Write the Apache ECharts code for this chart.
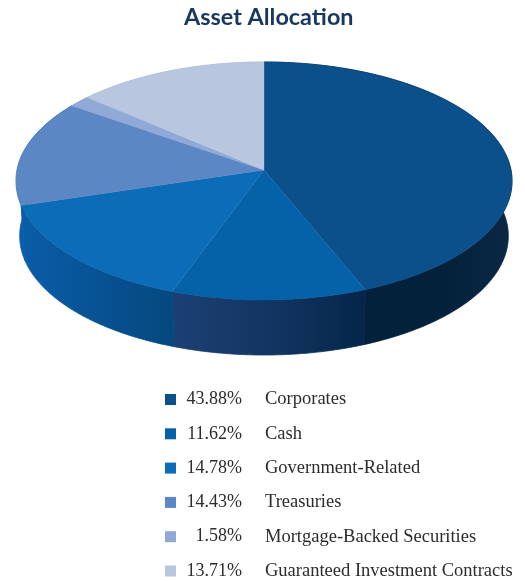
<!DOCTYPE html>
<html>
<head>
<meta charset="utf-8">
<style>html,body{margin:0;padding:0;background:#fff}#chart{width:525px;height:581px}</style>
<script src="https://cdn.jsdelivr.net/npm/echarts@6/dist/echarts.min.js"></script>
</head>
<body>
<div id="chart"></div>
<script>
// Portfolio weights by sector, in percent
const categories = ['Corporates', 'Cash', 'Government-Related', 'Treasuries', 'Mortgage-Backed Securities', 'Guaranteed Investment Contracts'];
const shares = [43.88, 11.62, 14.78, 14.43, 1.58, 13.71];

// Top face colours and the left-to-right shading of the rim
const faceColors = ['#0b4f8b', '#0561a8', '#0d6cb7', '#5c87c5', '#90a9d6', '#b8c6e0'];
const rimColors = [
  ['#04213b', '#04213b', '#0a2744'],
  ['#1b4074', '#133562', '#05264a'],
  ['#0a5da9', '#075293', '#06487f'],
  ['#6d93cc', '#0a5da9', '#0a5da9'],
  ['#7f97c4', '#7f97c4', '#7f97c4'],
  ['#a5b3cf', '#a5b3cf', '#a5b3cf']
];

// Disc projection: apex of the wedges, radii and perspective strength
const apexX = 264, apexY = 170, radiusX = 247, radiusY = 118, perspective = 0.0924;
const rimDepth = 55, rimScale = 0.985;

function project(turn) {
  const a = turn * 2 * Math.PI;
  const u = Math.sin(a), v = Math.cos(a);
  const w = 1 + perspective * v;
  return { x: apexX + radiusX * u / w, y: apexY - radiusY * v / w, v };
}

function arc(start, end) {
  const steps = Math.max(2, Math.ceil((end - start) * 720));
  const pts = [];
  for (let i = 0; i <= steps; i++) pts.push(project(start + (end - start) * i / steps));
  return pts;
}

function faceItem(params, api) {
  const pts = arc(api.value(0) / 100, api.value(1) / 100).map(p => [p.x, p.y]);
  pts.unshift([apexX, apexY]);
  const color = faceColors[params.seriesIndex];
  return { type: 'polygon', shape: { points: pts }, style: { fill: color, stroke: color, lineWidth: 0.4 } };
}

function rimItem(params, api) {
  const arcPts = arc(api.value(0) / 100, api.value(1) / 100);
  const lower = arcPts.map(p => [apexX + (p.x - apexX) * rimScale, p.y + rimDepth]).reverse();
  const near = arcPts.filter(p => p.v < 0.15);
  const xs = (near.length ? near : arcPts).map(p => p.x);
  const stops = rimColors[params.dataIndex];
  const shade = {
    type: 'linear', global: true,
    x: Math.min(...xs), y: 0, x2: Math.max(...xs), y2: 0,
    colorStops: [
      { offset: 0, color: stops[0] },
      { offset: 0.5, color: stops[1] },
      { offset: 1, color: stops[2] }
    ]
  };
  return {
    type: 'polygon',
    shape: { points: arcPts.map(p => [p.x, p.y]).concat(lower) },
    style: { fill: shade, stroke: shade, lineWidth: 0.8 }
  };
}

// Running [start, end] share of each sector around the disc
let running = 0;
const spans = shares.map(s => { const span = [running, running + s]; running += s; return span; });

const chart = echarts.init(document.getElementById('chart'), null, { renderer: 'canvas' });
chart.setOption({
  animation: false,
  title: {
    text: 'Asset Allocation',
    left: 179, top: 1,
    textStyle: { fontFamily: 'Lato', fontWeight: 'bold', fontSize: 23.4, color: '#17375f' }
  },
  legend: {
    data: categories,
    orient: 'vertical',
    left: 165, top: 390,
    height: 191,
    padding: 0,
    itemWidth: 11, itemHeight: 11,
    itemGap: 15.3,
    icon: 'rect',
    selectedMode: false,
    formatter: name => '{p|' + shares[categories.indexOf(name)].toFixed(2) + '%}{n|' + name + '}',
    textStyle: {
      fontFamily: 'Liberation Serif',
      color: '#2c2c2c',
      rich: {
        p: { width: 61, align: 'right', fontFamily: 'Liberation Serif', fontSize: 18, color: '#2c2c2c', height: 22 },
        n: { align: 'right', padding: [0, 0, 0, 23], fontFamily: 'Liberation Serif', fontSize: 18.5, color: '#2c2c2c', height: 22 }
      }
    }
  },
  series: categories.map((name, i) => ({
    type: 'custom',
    name,
    coordinateSystem: 'none',
    z: 3,
    silent: true,
    itemStyle: { color: faceColors[i] },
    renderItem: faceItem,
    data: [spans[i]]
  })).concat([{
    type: 'custom',
    name: 'rim',
    coordinateSystem: 'none',
    z: 2,
    silent: true,
    renderItem: rimItem,
    data: spans
  }])
});
</script>
</body>
</html>
